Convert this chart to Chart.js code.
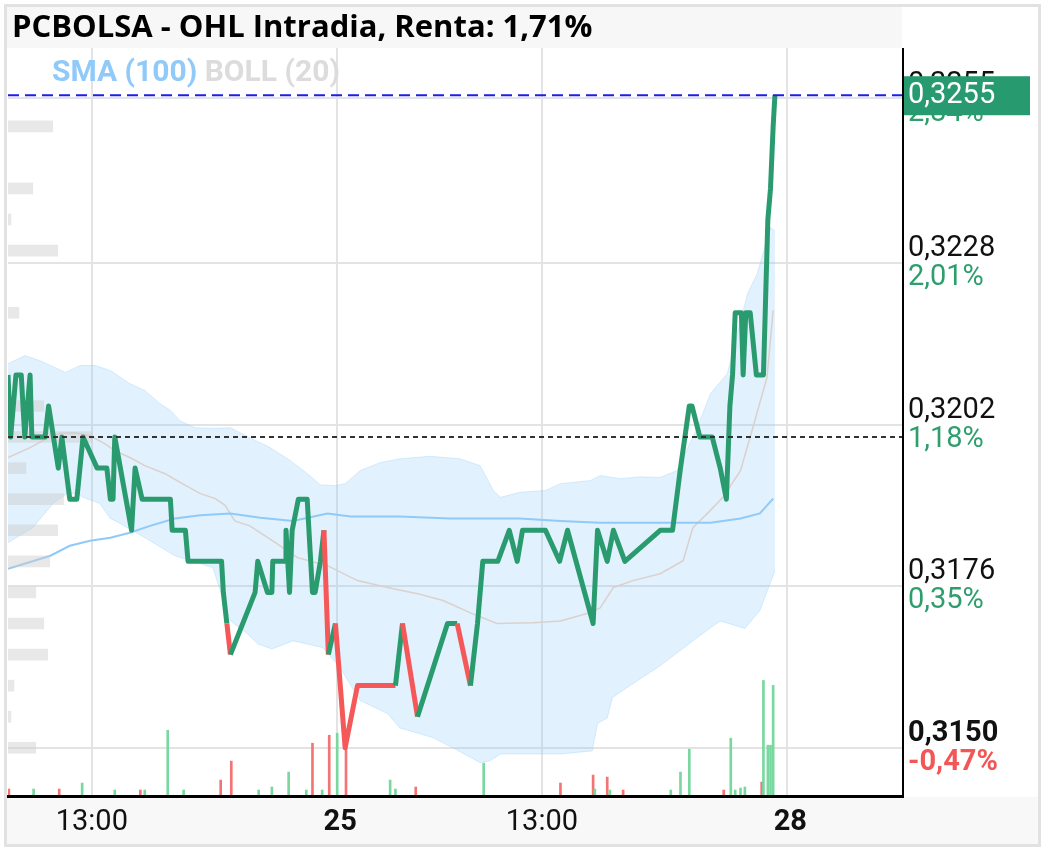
<!DOCTYPE html>
<html>
<head>
<meta charset="utf-8">
<script src="https://cdn.jsdelivr.net/npm/chart.js@4.4.0/dist/chart.umd.min.js"></script>
<style>
  html, body { margin: 0; padding: 0; background: #fff; }
  canvas { display: block; }
</style>
</head>
<body>
<canvas id="intradayChart" width="1045" height="851"></canvas>
<script>
// x = trading minutes counted from 09:00 of day 24 (510 min per session)
const xMin = 137;
const xMax = 1150;
const xTickValues = [232, 510, 742, 1020];
const xTickLabels = ['13:00', '25', '13:00', '28'];
const xTickBold = [false, true, false, true];

const yTickValues = [0.3150, 0.3176, 0.3202, 0.3228, 0.32545];
const yPriceLabels = ['0,3150', '0,3176', '0,3202', '0,3228', '0,3255'];
const yPctLabels = ['-0,47%', '0,35%', '1,18%', '2,01%', '2,84%'];

const lastPrice = 0.3255;
const prevClose = 0.3200;

// Price (last trade) line
const priceX = [137, 140, 146, 152, 156, 162, 164, 179, 183, 194, 198, 207, 215, 222, 238, 249, 253, 256, 258, 277,
  281, 289, 321, 323, 338, 341, 379, 381, 385, 389, 417, 420, 431, 436, 437, 451, 452, 456, 459, 466,
  476, 482, 485, 491, 495, 500, 508, 519, 533, 576, 584, 601, 635, 646, 661, 669, 675, 692, 705, 714,
  720, 746, 762, 771, 800, 805, 816, 823, 836, 876, 890, 899, 909, 912, 921, 935, 944, 951, 955, 958,
  961, 968, 970, 973, 978, 985, 993, 995, 997, 998, 1001, 1004, 1006];
const priceY = [0.3210, 0.3200, 0.3210, 0.3210, 0.3200, 0.3210, 0.3200, 0.3200, 0.3205, 0.3195,
  0.3200, 0.3190, 0.3190, 0.3200, 0.3195, 0.3195, 0.3190, 0.3190, 0.3200, 0.3185,
  0.3195, 0.3190, 0.3190, 0.3185, 0.3185, 0.3180, 0.3180, 0.3175, 0.3170, 0.3165,
  0.3175, 0.3180, 0.3175, 0.3175, 0.3180, 0.3180, 0.3185, 0.3175, 0.3185, 0.3190,
  0.3190, 0.3175, 0.3175, 0.3180, 0.3185, 0.3165, 0.3170, 0.3150, 0.3160, 0.3160,
  0.3170, 0.3155, 0.3170, 0.3170, 0.3160, 0.3170, 0.3180, 0.3180, 0.3185, 0.3180,
  0.3185, 0.3185, 0.3180, 0.3185, 0.3170, 0.3185, 0.3180, 0.3185, 0.3180, 0.3185,
  0.3185, 0.3195, 0.3205, 0.3205, 0.3200, 0.3200, 0.3195, 0.3190, 0.3205, 0.3210,
  0.3220, 0.3220, 0.3210, 0.3220, 0.3220, 0.3210, 0.3210, 0.3220, 0.3230, 0.3235,
  0.3240, 0.3250, 0.3255];
// segments drawn in red start at these x values
const redFrom = [385, 495, 508, 519, 533, 584, 646];

// Bollinger (20)
const bbUpX = [137, 156, 173, 190, 202, 219, 236, 253, 275, 292, 309, 321, 332, 349, 372, 389, 411, 434, 457, 479,
  491, 508, 519, 536, 559, 581, 615, 649, 672, 687, 695, 717, 746, 763, 797, 808, 831, 853, 876, 895,
  918, 933, 952, 975, 986, 1001, 1006];
const bbUpY = [0.32118, 0.32131, 0.32123, 0.32112, 0.32104, 0.32115, 0.32115, 0.32107, 0.32086, 0.32075,
  0.32054, 0.32043, 0.32026, 0.32015, 0.32014, 0.32015, 0.31999, 0.31983, 0.31962, 0.31938,
  0.31923, 0.31922, 0.31925, 0.31946, 0.31959, 0.31965, 0.31969, 0.31965, 0.31954, 0.31914,
  0.31903, 0.31911, 0.31914, 0.31925, 0.31930, 0.31938, 0.31933, 0.31936, 0.31935, 0.31946,
  0.32015, 0.32070, 0.32102, 0.32231, 0.32263, 0.32337, 0.32332];
const bbLoX = [137, 165, 188, 204, 215, 222, 241, 253, 264, 279, 298, 326, 355, 369, 389, 408, 420, 436, 460, 476,
  494, 513, 536, 567, 581, 619, 641, 672, 683, 695, 764, 799, 805, 816, 822, 842, 876, 913, 933, 944,
  972, 989, 1006];
const bbLoY = [0.31830, 0.31854, 0.31893, 0.31909, 0.31909, 0.31903, 0.31893, 0.31869, 0.31861, 0.31849,
  0.31833, 0.31809, 0.31796, 0.31790, 0.31704, 0.31684, 0.31667, 0.31659, 0.31672, 0.31667,
  0.31661, 0.31629, 0.31576, 0.31555, 0.31532, 0.31516, 0.31500, 0.31476, 0.31479, 0.31490,
  0.31490, 0.31495, 0.31539, 0.31548, 0.31581, 0.31600, 0.31632, 0.31672, 0.31693, 0.31704,
  0.31692, 0.31721, 0.31785];
const bbMidX = [137, 162, 179, 196, 213, 230, 247, 258, 275, 292, 315, 332, 355, 372, 383, 394, 411, 437, 465, 499,
  533, 567, 601, 630, 661, 691, 732, 763, 793, 808, 823, 845, 876, 902, 913, 933, 947, 967, 981, 997, 1004];
const bbMidY = [0.31967, 0.31983, 0.31996, 0.32006, 0.32007, 0.32002, 0.31989, 0.31978, 0.31967, 0.31954,
  0.31941, 0.31927, 0.31909, 0.31901, 0.31890, 0.31865, 0.31857, 0.31833, 0.31806, 0.31793,
  0.31769, 0.31758, 0.31748, 0.31737, 0.31717, 0.31700, 0.31701, 0.31704, 0.31716, 0.31725,
  0.31758, 0.31769, 0.31780, 0.31801, 0.31854, 0.31882, 0.31903, 0.31946, 0.32015, 0.32096, 0.32204];

// SMA (100)
const smaX = [137, 185, 207, 230, 253, 275, 298, 326, 355, 389, 423, 460, 499, 525, 581, 638, 717, 763, 808, 853,
  899, 933, 967, 989, 1004];
const smaY = [0.31788, 0.31809, 0.31825, 0.31833, 0.31838, 0.31846, 0.31857, 0.31869, 0.31874, 0.31877,
  0.31870, 0.31865, 0.31877, 0.31872, 0.31872, 0.31869, 0.31869, 0.31865, 0.31862, 0.31862,
  0.31862, 0.31862, 0.31869, 0.31877, 0.31901];

// Volume per trade (1 = up tick, 0 = down tick)
const volX = [138, 166, 195, 221, 258, 287, 292, 318, 336, 378, 390, 421, 436, 455, 475, 482, 493, 501, 510, 520,
  570, 576, 599, 676, 763, 800, 802, 816, 819, 834, 888, 899, 909, 948, 956, 961, 967, 972, 991, 993,
  998, 1001, 1004];
const volV = [60, 60, 60, 120, 50, 50, 50, 650, 50, 150, 340, 50, 80, 230, 50, 520, 50, 600, 620, 550,
  150, 60, 80, 320, 120, 200, 60, 180, 50, 50, 50, 230, 460, 50, 570, 50, 70, 80, 130, 1150,
  500, 500, 1100];
const volUp = [0, 1, 0, 1, 1, 0, 1, 1, 1, 0, 0, 1, 1, 1, 1, 0, 1, 0, 1, 0,
  1, 1, 0, 1, 0, 0, 1, 0, 1, 0, 1, 1, 1, 0, 1, 1, 1, 1, 0, 1, 1, 1, 1];
const volMax = 7500;

// Volume at price (left profile)
const profPrice = [0.3250, 0.3240, 0.3235, 0.3230, 0.3220, 0.3205, 0.3200, 0.3195, 0.3190, 0.3185,
  0.3180, 0.3175, 0.3170, 0.3165, 0.3160, 0.3155, 0.3150];
const profVol = [180, 100, 12, 200, 44, 144, 340, 72, 224, 200, 168, 112, 144, 160, 24, 12, 112];
const profMax = 3600;

const GREEN = '#2a9b6f';
const RED = '#f45858';
const TXT_GREEN = '#2e9e6c';
const TXT_RED = '#f25656';

function pts(xs, ys) {
  return xs.map((x, i) => ({ x: x, y: ys[i] }));
}

const framePlugin = {
  id: 'frame',
  beforeDraw(chart) {
    const c = chart.ctx;
    const a = chart.chartArea;
    c.save();
    c.fillStyle = '#ffffff';
    c.fillRect(0, 0, chart.width, chart.height);
    // title band and bottom label band
    c.fillStyle = '#f7f7f7';
    c.fillRect(a.left - 1, 7, a.right - a.left + 1, a.top - 7);
    c.fillStyle = '#f8f8f8';
    c.fillRect(a.left - 1, a.bottom + 2, chart.width - a.left - 5, chart.height - a.bottom - 8);
    c.strokeStyle = '#e2e2e2';
    c.lineWidth = 3;
    c.strokeRect(5.5, 5.5, chart.width - 11, chart.height - 11);
    c.restore();
  },
  afterDatasetsDraw(chart) {
    const c = chart.ctx;
    const a = chart.chartArea;
    const ys = chart.scales.y;
    const xs = chart.scales.x;
    c.save();

    // axis lines
    c.strokeStyle = '#000';
    c.lineWidth = 2;
    c.beginPath();
    c.moveTo(a.right + 1, a.top);
    c.lineTo(a.right + 1, a.bottom + 2);
    c.stroke();
    c.lineWidth = 3;
    c.beginPath();
    c.moveTo(a.left - 1, a.bottom + 1.5);
    c.lineTo(a.right + 2, a.bottom + 1.5);
    c.stroke();

    // right axis labels: price above, change below
    c.textAlign = 'left';
    c.textBaseline = 'middle';
    yTickValues.forEach((v, i) => {
      const py = ys.getPixelForValue(v);
      const bold = i === 0 ? 'bold ' : '';
      c.font = bold + '29px Roboto';
      c.fillStyle = '#111';
      c.fillText(yPriceLabels[i], a.right + 6, py - 14);
      c.fillStyle = yPctLabels[i].charAt(0) === '-' ? TXT_RED : TXT_GREEN;
      c.fillText(yPctLabels[i], a.right + 6, py + 15);
    });

    // last price tag
    const lp = ys.getPixelForValue(lastPrice);
    c.fillStyle = '#279b6f';
    c.fillRect(a.right + 2, lp - 19, 126, 39);
    c.fillStyle = '#ffffff';
    c.font = '29px Roboto';
    c.fillText(lastPrice.toFixed(4).replace('.', ','), a.right + 6, lp + 1);

    // x labels
    c.textAlign = 'center';
    c.fillStyle = '#111';
    xTickValues.forEach((v, i) => {
      c.font = (xTickBold[i] ? 'bold ' : '') + '29px Roboto';
      c.fillText(xTickLabels[i], xs.getPixelForValue(v) + (xTickBold[i] ? 3 : 0), a.bottom + 28);
    });

    // title
    c.textAlign = 'left';
    c.fillStyle = '#000';
    c.font = 'bold 31px "Open Sans"';
    c.fillText('PCBOLSA - OHL Intradia, Renta: 1,71%', a.left + 4, 28);

    // indicator legend
    c.font = 'bold 30px Roboto';
    c.fillStyle = '#90caf9';
    const s1 = 'SMA (100)';
    c.fillText(s1, a.left + 44, a.top + 25);
    c.fillStyle = '#dcdcdc';
    c.fillText('BOLL (20)', a.left + 44 + c.measureText(s1 + ' ').width, a.top + 25);
    c.restore();
  }
};

const ctx = document.getElementById('intradayChart');
new Chart(ctx, {
  type: 'line',
  data: {
    datasets: [
      {
        label: 'Last',
        data: pts(priceX, priceY),
        borderColor: GREEN,
        borderWidth: 5,
        borderJoinStyle: 'round',
        pointRadius: 0,
        segment: {
          borderColor: c => redFrom.includes(c.p0.parsed.x) ? RED : GREEN
        },
        order: 2
      },
      {
        label: 'Prev close',
        data: [{ x: xMin, y: prevClose }, { x: xMax, y: prevClose }],
        borderColor: '#333333',
        borderWidth: 2,
        borderDash: [5, 4],
        pointRadius: 0,
        order: 1
      },
      {
        label: 'Current',
        data: [{ x: xMin, y: lastPrice }, { x: xMax, y: lastPrice }],
        borderColor: '#1d1de8',
        borderWidth: 2,
        borderDash: [11, 6],
        pointRadius: 0,
        order: 0
      },
      {
        label: 'Profile',
        type: 'bar',
        indexAxis: 'y',
        xAxisID: 'xProf',
        yAxisID: 'y',
        data: profPrice.map((p, i) => ({ x: profVol[i], y: p })),
        backgroundColor: 'rgba(205, 205, 205, 0.45)',
        barThickness: 11,
        grouped: false,
        order: 4
      },
      {
        label: 'Volume',
        type: 'bar',
        xAxisID: 'x',
        yAxisID: 'yVol',
        data: volX.map((x, i) => ({ x: x, y: volV[i] })),
        backgroundColor: volUp.map(u => u ? '#78d8a0' : '#f47474'),
        barThickness: 2,
        grouped: false,
        order: 5
      },
      {
        label: 'SMA (100)',
        data: pts(smaX, smaY),
        borderColor: '#90caf9',
        borderWidth: 2,
        pointRadius: 0,
        order: 6
      },
      {
        label: 'BOLL mid',
        data: pts(bbMidX, bbMidY),
        borderColor: '#dcd0cc',
        borderWidth: 1.5,
        pointRadius: 0,
        order: 7
      },
      {
        label: 'BOLL up',
        data: pts(bbUpX, bbUpY),
        borderColor: 'rgba(144, 202, 249, 0.3)',
        borderWidth: 1,
        pointRadius: 0,
        fill: '+1',
        backgroundColor: 'rgba(144, 202, 249, 0.27)',
        order: 8
      },
      {
        label: 'BOLL low',
        data: pts(bbLoX, bbLoY),
        borderColor: 'rgba(144, 202, 249, 0.3)',
        borderWidth: 1,
        pointRadius: 0,
        fill: false,
        order: 9
      }
    ]
  },
  options: {
    responsive: false,
    animation: false,
    devicePixelRatio: 1,
    layout: { padding: { left: 8, top: 48, right: 143, bottom: 56 } },
    plugins: {
      legend: { display: false },
      tooltip: { enabled: false }
    },
    scales: {
      x: {
        type: 'linear',
        min: xMin,
        max: xMax,
        offset: false,
        afterFit: s => { s.height = 0; },
        afterBuildTicks: s => { s.ticks = xTickValues.map(v => ({ value: v })); },
        ticks: { display: false },
        grid: { color: '#e3e3e3', lineWidth: 2, drawTicks: false, offset: false },
        border: { display: false }
      },
      y: {
        type: 'linear',
        position: 'right',
        min: 0.31424,
        max: 0.32626,
        offset: false,
        afterFit: s => { s.width = 0; },
        afterBuildTicks: s => { s.ticks = yTickValues.map(v => ({ value: v })); },
        ticks: { display: false },
        grid: { color: '#e3e3e3', lineWidth: 2, drawTicks: false, offset: false },
        border: { display: false }
      },
      yVol: { type: 'linear', display: false, min: 0, max: volMax },
      xProf: { type: 'linear', axis: 'x', display: false, min: 0, max: profMax }
    }
  },
  plugins: [framePlugin]
});
</script>
</body>
</html>
